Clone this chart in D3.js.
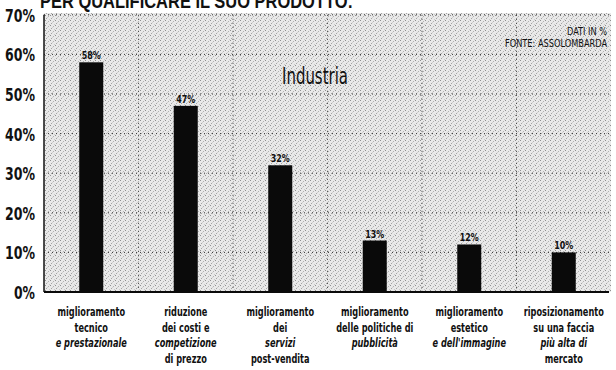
<!DOCTYPE html>
<html>
<head>
<meta charset="utf-8">
<script src="https://cdn.jsdelivr.net/npm/d3@7"></script>
<style>
  html, body { margin: 0; padding: 0; background: #fff; }
  svg { display: block; }
  .narrow { font-family: "DejaVu Sans Condensed", "Liberation Sans Narrow", "Arial Narrow", sans-serif; }
</style>
</head>
<body>
<svg id="chart" width="616" height="370"></svg>
<script>
// Survey results: ways industry firms qualify their product (percent)
const categories = ["tecnico", "costi", "servizi", "pubblicita", "estetico", "riposizionamento"];
const values = [58, 47, 32, 13, 12, 10];
const valueLabels = ["58%", "47%", "32%", "13%", "12%", "10%"];
const yTicks = [0, 10, 20, 30, 40, 50, 60, 70];
const yTickLabels = ["0%", "10%", "20%", "30%", "40%", "50%", "60%", "70%"];
const categoryLines = [
  ["miglioramento", "tecnico", "e prestazionale"],
  ["riduzione", "dei costi e", "competizione", "di prezzo"],
  ["miglioramento", "dei", "servizi", "post-vendita"],
  ["miglioramento", "delle politiche di", "pubblicità"],
  ["miglioramento", "estetico", "e dell'immagine"],
  ["riposizionamento", "su una faccia", "più alta di", "mercato"]
];
const italicLines = [[2], [2], [2], [2], [2], [2]];
const headline = "PER QUALIFICARE IL SUO PRODOTTO:";
const panelTitle = "Industria";
const sourceNote = ["DATI IN %", "FONTE: ASSOLOMBARDA"];

const svg = d3.select("#chart");

const plot = { left: 44, right: 611, top: 13, bottom: 292 };

const x = d3.scaleBand()
  .domain(categories)
  .range([plot.left, plot.right])
  .paddingInner(0.746)
  .paddingOuter(0.373);

const y = d3.scaleLinear()
  .domain([0, 70])
  .range([plot.bottom, 14.8]);

// halftone background texture
const defs = svg.append("defs");
const pat = defs.append("pattern")
  .attr("id", "screen")
  .attr("patternUnits", "userSpaceOnUse")
  .attr("width", 5).attr("height", 5);
pat.append("rect").attr("width", 5).attr("height", 5).attr("fill", "#e9e9e9");
[[0, 0, "#8e8e8e"], [3, 1, "#b0b0b0"], [1, 3, "#a4a4a4"], [4, 4, "#c8c8c8"], [2, 2, "#cfcfcf"]]
  .forEach(([px, py, c]) => pat.append("rect")
    .attr("x", px).attr("y", py).attr("width", 1).attr("height", 1).attr("fill", c));

svg.append("rect")
  .attr("x", plot.left).attr("y", plot.top)
  .attr("width", plot.right - plot.left)
  .attr("height", plot.bottom - plot.top)
  .attr("fill", "url(#screen)");

// headline, running off the top edge
svg.append("text")
  .attr("x", 40).attr("y", 8)
  .attr("font-family", "Liberation Sans, Arial, sans-serif")
  .attr("font-weight", "bold")
  .attr("font-size", 21)
  .attr("textLength", 313)
  .attr("lengthAdjust", "spacingAndGlyphs")
  .attr("fill", "#111")
  .text(headline);

// horizontal dotted gridlines
svg.append("g")
  .selectAll("line")
  .data(yTicks.filter(d => d > 0))
  .join("line")
  .attr("x1", plot.left).attr("x2", plot.right)
  .attr("y1", d => y(d)).attr("y2", d => y(d))
  .attr("stroke", "#333")
  .attr("stroke-width", 1)
  .attr("stroke-dasharray", "1,3");

// vertical dotted separators between categories
const gap = x.step() - x.bandwidth();
svg.append("g")
  .selectAll("line")
  .data(categories.slice(1))
  .join("line")
  .attr("x1", d => x(d) - gap / 2).attr("x2", d => x(d) - gap / 2)
  .attr("y1", y(70)).attr("y2", plot.bottom)
  .attr("stroke", "#333")
  .attr("stroke-width", 1)
  .attr("stroke-dasharray", "1,3");

// y axis labels
const yAxis = d3.axisLeft(y)
  .tickValues(yTicks)
  .tickFormat((d, i) => yTickLabels[i])
  .tickSize(0)
  .tickPadding(9);
const yg = svg.append("g")
  .attr("transform", `translate(${plot.left},0)`)
  .call(yAxis);
yg.select(".domain").remove();
yg.selectAll("text")
  .attr("class", "narrow")
  .attr("font-family", null)
  .attr("font-size", 18)
  .attr("font-weight", "bold")
  .attr("fill", "#111")
  .attr("dy", "0.36em")
  .attr("textLength", (d, i) => yTickLabels[i].length === 2 ? 21 : 30)
  .attr("lengthAdjust", "spacingAndGlyphs");

// left axis line
svg.append("line")
  .attr("x1", plot.left).attr("x2", plot.left)
  .attr("y1", y(70)).attr("y2", plot.bottom)
  .attr("stroke", "#111").attr("stroke-width", 1.5);

// bars
svg.append("g")
  .selectAll("rect")
  .data(values)
  .join("rect")
  .attr("x", (d, i) => x(categories[i]))
  .attr("y", d => y(d))
  .attr("width", x.bandwidth())
  .attr("height", d => y(0) - y(d))
  .attr("fill", "#0a0a0a");

// value labels
svg.append("g")
  .selectAll("text")
  .data(values)
  .join("text")
  .attr("class", "narrow")
  .attr("x", (d, i) => x(categories[i]) + x.bandwidth() / 2)
  .attr("y", d => y(d) - 3)
  .attr("text-anchor", "middle")
  .attr("font-size", 10)
  .attr("font-weight", "bold")
  .attr("fill", "#111")
  .attr("textLength", 19)
  .attr("lengthAdjust", "spacingAndGlyphs")
  .text((d, i) => valueLabels[i]);

// baseline
svg.append("line")
  .attr("x1", plot.left).attr("x2", plot.right - 2)
  .attr("y1", plot.bottom).attr("y2", plot.bottom)
  .attr("stroke", "#0a0a0a").attr("stroke-width", 2);

// category labels, horizontally condensed
const cat = svg.append("g")
  .selectAll("text")
  .data(categories)
  .join("text")
  .attr("class", "narrow")
  .attr("text-anchor", "middle")
  .attr("font-size", 12.5)
  .attr("font-weight", "bold")
  .attr("fill", "#111")
  .attr("transform", d => `translate(${x(d) + x.bandwidth() / 2},316) scale(0.73,1)`);
cat.each(function (d, i) {
  d3.select(this).selectAll("tspan")
    .data(categoryLines[i])
    .join("tspan")
    .attr("x", 0)
    .attr("y", (t, j) => j * 15.6)
    .attr("font-style", (t, j) => italicLines[i].includes(j) ? "italic" : "normal")
    .text(t => t);
});

// panel title
svg.append("text")
  .attr("class", "narrow")
  .attr("x", 315).attr("y", 84)
  .attr("text-anchor", "middle")
  .attr("font-size", 23)
  .attr("textLength", 66)
  .attr("lengthAdjust", "spacingAndGlyphs")
  .attr("fill", "#111")
  .text(panelTitle);

// source note
svg.append("g")
  .selectAll("text")
  .data(sourceNote)
  .join("text")
  .attr("class", "narrow")
  .attr("x", 607)
  .attr("y", (d, i) => 35 + i * 12)
  .attr("text-anchor", "end")
  .attr("font-size", 11)
  .attr("fill", "#111")
  .attr("textLength", (d, i) => i === 0 ? 40 : 102)
  .attr("lengthAdjust", "spacingAndGlyphs")
  .text(d => d);
</script>
</body>
</html>
